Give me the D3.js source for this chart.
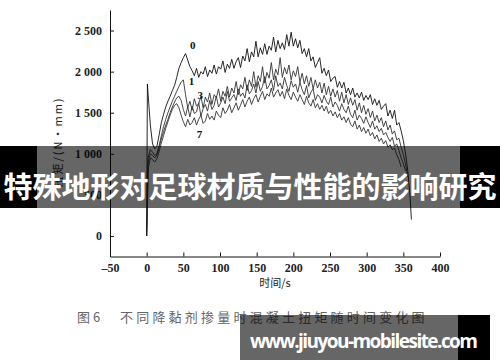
<!DOCTYPE html>
<html>
<head>
<meta charset="utf-8">
<script src="https://cdn.jsdelivr.net/npm/d3@7"></script>
<style>
  html, body { margin: 0; padding: 0; background: #fff; }
  svg { display: block; }
</style>
</head>
<body>
<script>
// sampling times (s) shared by all curves
const times = [0, 1, 2, 5, 8, 11, 14, 17, 20, 23, 26, 29, 32, 35, 38, 41, 44, 47, 50, 53,
  56, 59, 62, 65, 68, 71, 74, 77, 80, 83, 86, 89, 92, 95, 98, 101, 104, 107, 110, 113,
  116, 119, 122, 125, 128, 131, 134, 137, 140, 143, 146, 149, 152, 155, 158, 161, 164, 167, 170, 173,
  176, 179, 182, 185, 188, 191, 194, 197, 200, 203, 206, 209, 212, 215, 218, 221, 224, 227, 230, 233,
  236, 239, 242, 245, 248, 251, 254, 257, 260, 263, 266, 269, 272, 275, 278, 281, 284, 287, 290, 293,
  296, 299, 302, 305, 308, 311, 314, 317, 320, 323, 326, 329, 332, 335, 338, 341, 344, 347, 350, 353,
  356, 359, 361];

// torque (N·mm) for each dosage
const torque0 = [0, 1850, 1720, 1350, 1120, 1060, 1090, 1230, 1380, 1480, 1570, 1640, 1700, 1770, 1830, 1930,
  2040, 2110, 2170, 2220, 2140, 2060,
  2010, 1950, 2040, 1930, 2000, 1970, 2060, 1940, 2020, 1980,
  2080, 1970, 2060, 2030, 2130, 1990, 2090, 2040, 2150, 2040,
  2120, 2170, 2050, 2190, 2130, 2280, 2120, 2240, 2180, 2370,
  2180, 2290, 2210, 2340, 2210, 2310, 2260, 2420, 2240, 2380,
  2280, 2350, 2270, 2450, 2310, 2480, 2310, 2400, 2290, 2380,
  2220, 2280, 2180, 2280, 2130, 2180, 2050, 2110, 2170, 1980,
  2040, 1950, 2020, 1880, 1920, 1940, 1810, 1880, 1800, 1870,
  1740, 1800, 1720, 1800, 1690, 1740, 1680, 1750, 1650, 1710,
  1660, 1720, 1600, 1670, 1590, 1650, 1540, 1580, 1610, 1460,
  1530, 1430, 1530, 1350, 1380, 1280, 1160, 1000, 800, 500,
  200];

const torque1 = [0, 600, 950, 1050, 1020, 980, 1000, 1100, 1220, 1330, 1420, 1500, 1570, 1640, 1700, 1760,
  1820, 1870, 1900, 1720, 1560, 1640,
  1530, 1670, 1580, 1610, 1700, 1560, 1690, 1630, 1740, 1600,
  1720, 1680, 1790, 1640, 1760, 1700, 1820, 1690, 1800, 1740,
  1880, 1720, 1840, 1790, 1930, 1770, 1900, 1820, 2000, 1810,
  1950, 1880, 2060, 1860, 1990, 1920, 2110, 1900, 2030, 1960,
  2170, 1930, 2050, 1970, 2080, 1900, 2010, 1940, 2060, 1870,
  1980, 1850, 1950, 1820, 1930, 1790, 1900, 1800, 1870, 1740,
  1860, 1720, 1820, 1700, 1790, 1690, 1770, 1640, 1750, 1620,
  1720, 1600, 1680, 1590, 1660, 1530, 1620, 1500, 1590, 1480,
  1550, 1440, 1520, 1400, 1470, 1380, 1440, 1330, 1400, 1290,
  1350, 1240, 1280, 1170, 1190, 1080, 990, 870, 720];

const torque3 = [0, 400, 900, 1000, 980, 950, 990, 1080, 1180, 1270, 1350, 1420, 1500, 1570, 1630, 1680,
  1700, 1650, 1540, 1460, 1570, 1450,
  1580, 1490, 1510, 1620, 1460, 1550, 1600, 1520, 1650, 1540,
  1590, 1700, 1570, 1620, 1690, 1610, 1760, 1640, 1680, 1720,
  1650, 1790, 1700, 1740, 1680, 1840, 1730, 1770, 1850, 1740,
  1880, 1760, 1820, 1940, 1790, 1830, 1900, 1770, 1950, 1820,
  1860, 1790, 1930, 1830, 1760, 1890, 1810, 1850, 1750, 1870,
  1780, 1720, 1830, 1680, 1750, 1790, 1650, 1720, 1690, 1620,
  1710, 1640, 1600, 1690, 1570, 1630, 1590, 1520, 1610, 1540,
  1500, 1580, 1480, 1440, 1530, 1410, 1470, 1430, 1370, 1450,
  1380, 1320, 1400, 1300, 1340, 1270, 1310, 1230, 1260, 1200,
  1150, 1200, 1090, 1120, 1040, 950, 880, 790];

const torque7 = [0, 300, 800, 950, 930, 900, 940, 1030, 1130, 1220, 1310, 1390, 1470, 1540, 1590, 1610,
  1560, 1470, 1390, 1330, 1420, 1350,
  1380, 1440, 1350, 1420, 1470, 1370, 1400, 1490, 1420, 1460,
  1410, 1520, 1470, 1440, 1560, 1490, 1530, 1600, 1500, 1560,
  1620, 1530, 1590, 1660, 1570, 1640, 1690, 1600, 1670, 1720,
  1630, 1700, 1760, 1660, 1730, 1700, 1800, 1690, 1740, 1780,
  1700, 1760, 1670, 1790, 1710, 1660, 1750, 1690, 1640, 1720,
  1660, 1600, 1700, 1620, 1580, 1660, 1560, 1610, 1540, 1590,
  1520, 1580, 1490, 1530, 1460, 1510, 1440, 1490, 1410, 1450,
  1380, 1440, 1360, 1330, 1400, 1300, 1350, 1270, 1320, 1250,
  1300, 1220, 1260, 1180, 1230, 1150, 1190, 1120, 1160, 1080,
  1110, 1050, 1070, 990, 930, 840];

const series = [
  {name: "7", values: torque7, color: "#333"},
  {name: "3", values: torque3, color: "#333"},
  {name: "1", values: torque1, color: "#333"},
  {name: "0", values: torque0, color: "#111"}
];

// where the curve numbers sit (time, torque)
const curveLabels = [
  {text: "0", t: 63, v: 2330},
  {text: "1", t: 61, v: 1880},
  {text: "3", t: 73, v: 1710},
  {text: "7", t: 72, v: 1240}
];

const xTicks = [-50, 0, 50, 100, 150, 200, 250, 300, 350, 400];
const yTicks = [0, 500, 1000, 1500, 2000, 2500];

const width = 500;
const height = 362;

const locale = d3.formatLocale({decimal: ".", thousands: " ", grouping: [3], currency: ["", ""], minus: "\u2013"});
const fmt = locale.format(",");

let x = d3.scaleLinear().domain([-50, 400]).range([110, 440]);
let y = d3.scaleLinear().domain([-250, 2750]).range([256.5, 10]);

let svg = d3.select("body").append("svg")
  .attr("width", width)
  .attr("height", height);

// curves
let line = d3.line()
  .x((d, i) => x(times[i]))
  .y(d => y(d));

svg.selectAll("path.curve")
  .data(series)
  .enter()
  .append("path")
  .attr("class", "curve")
  .attr("d", d => line(d.values))
  .attr("fill", "none")
  .attr("stroke", d => d.color)
  .attr("stroke-width", 0.9)
  .attr("stroke-linejoin", "round");

// axes
svg.append("g")
  .attr("transform", "translate(" + x(-50) + ",0)")
  .call(d3.axisLeft(y).tickValues(yTicks).tickFormat(fmt)
    .tickSizeInner(-4).tickSizeOuter(0).tickPadding(8));

svg.append("g")
  .attr("transform", "translate(0," + y(-250) + ")")
  .call(d3.axisBottom(x).tickValues(xTicks).tickFormat(fmt)
    .tickSizeInner(-4).tickSizeOuter(0).tickPadding(7));

svg.selectAll(".tick text")
  .attr("font-family", "'Liberation Serif', serif")
  .attr("font-size", "12px")
  .attr("font-weight", "bold")
  .attr("fill", "#222");
svg.selectAll(".domain, .tick line").attr("stroke", "#111");

// curve numbers
svg.selectAll("text.lab")
  .data(curveLabels)
  .enter()
  .append("text")
  .attr("class", "lab")
  .attr("x", d => x(d.t))
  .attr("y", d => y(d.v))
  .attr("text-anchor", "middle")
  .attr("dominant-baseline", "central")
  .attr("font-family", "'Liberation Serif', serif")
  .attr("font-weight", "bold")
  .attr("font-size", "11px")
  .attr("fill", "#111")
  .text(d => d.text);

// axis titles
svg.append("text")
  .attr("x", 275)
  .attr("y", 287)
  .attr("text-anchor", "middle")
  .attr("font-family", "'Noto Sans CJK SC', sans-serif")
  .attr("font-size", "11px")
  .attr("fill", "#222")
  .text("时间/s");

svg.append("text")
  .attr("transform", "translate(62,142) rotate(-90)")
  .attr("text-anchor", "middle")
  .attr("font-family", "'Noto Sans CJK SC', sans-serif")
  .attr("font-size", "11px")
  .attr("letter-spacing", "2px")
  .attr("fill", "#222")
  .text("扭矩/(N·mm)");

// caption
svg.append("text")
  .attr("x", 77)
  .attr("y", 322)
  .attr("font-family", "'Noto Sans CJK SC', sans-serif")
  .attr("font-size", "13px")
  .attr("fill", "#666")
  .text("图 6");

svg.append("text")
  .attr("x", 120)
  .attr("y", 322)
  .attr("font-family", "'Noto Sans CJK SC', sans-serif")
  .attr("font-size", "13px")
  .attr("letter-spacing", "3.2px")
  .attr("fill", "#666")
  .text("不同降黏剂掺量时混凝土扭矩随时间变化图");

// title banner
svg.append("rect").attr("x", 0).attr("y", 146).attr("width", 37).attr("height", 62).attr("fill", "#000");
svg.append("rect").attr("x", 460).attr("y", 146).attr("width", 40).attr("height", 62).attr("fill", "#000");
svg.append("rect").attr("x", 0).attr("y", 146).attr("width", 500).attr("height", 62)
  .attr("fill", "#000").attr("fill-opacity", 0.6);
svg.append("text")
  .attr("x", 250)
  .attr("y", 185)
  .attr("text-anchor", "middle")
  .attr("dominant-baseline", "central")
  .attr("font-family", "'Noto Sans CJK SC', sans-serif")
  .attr("font-weight", "bold")
  .attr("font-size", "29px")
  .attr("fill", "#fff")
  .text("特殊地形对足球材质与性能的影响研究");

// site watermark
svg.append("rect").attr("x", 458).attr("y", 315).attr("width", 32).attr("height", 45).attr("fill", "#000");
svg.append("rect").attr("x", 240).attr("y", 315).attr("width", 250).attr("height", 45)
  .attr("fill", "#000").attr("fill-opacity", 0.6);
svg.append("text")
  .attr("x", 250)
  .attr("y", 348)
  .attr("font-family", "'Open Sans', sans-serif")
  .attr("font-weight", "bold")
  .attr("font-size", "19px")
  .attr("textLength", 228)
  .attr("fill", "#fff")
  .text("www.jiuyou-mobilesite.com");
</script>
</body>
</html>
